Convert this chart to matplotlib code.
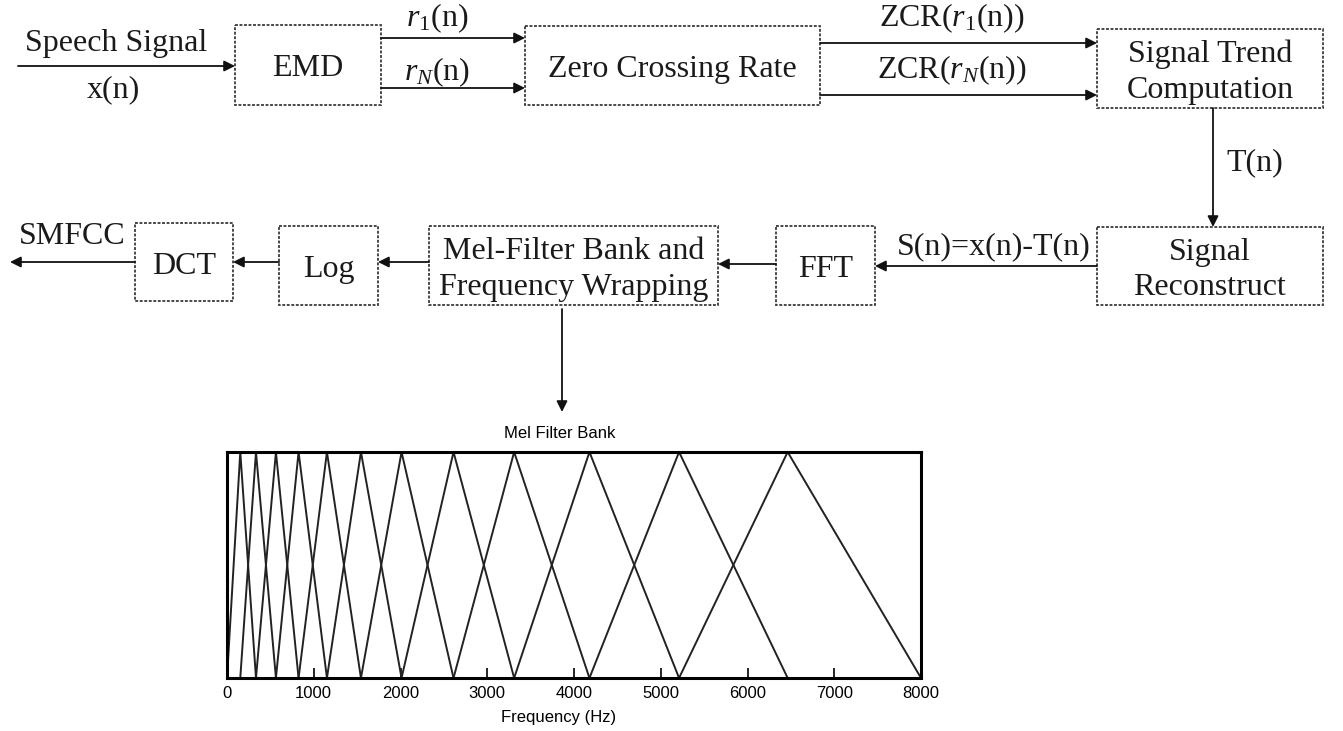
import numpy as np
import matplotlib
matplotlib.use("Agg")
import matplotlib.pyplot as plt
from matplotlib.patches import Rectangle

# ------------------------------------------------------------
# data: mel filter bank centre frequencies (Hz)
# ------------------------------------------------------------
f_min = 0
f_max = 8000
mel_centres = [153, 334, 564, 825, 1152, 1544, 2012, 2611, 3310, 4178, 5211, 6463]
freq_ticks = [0, 1000, 2000, 3000, 4000, 5000, 6000, 7000, 8000]

# block labels of the flow diagram
block_labels = ["EMD", "Zero Crossing Rate", "Signal Trend\nComputation",
                "Signal\nReconstruct", "FFT",
                "Mel-Filter Bank and\nFrequency Wrapping", "Log", "DCT"]
edge_labels = ["$r_1$(n)", "$r_N$(n)", "ZCR($r_1$(n))", "ZCR($r_N$(n))",
               "T(n)", "S(n)=x(n)-T(n)", "SMFCC"]

plt.rcParams["font.family"] = ["Liberation Serif", "DejaVu Serif"]
plt.rcParams["mathtext.fontset"] = "custom"
plt.rcParams["mathtext.rm"] = "Liberation Serif"
plt.rcParams["mathtext.it"] = "Liberation Serif:italic"

fig = plt.figure(figsize=(13.43, 7.31), dpi=100)

# -----------------------------
# Diagram layer in pixel coords
# -----------------------------
ax0 = fig.add_axes([0, 0, 1, 1])
ax0.set_xlim(0, 1343)
ax0.set_ylim(731, 0)
ax0.axis("off")

# (x0, y0, x1, y1) for each block
boxes = [
    (235, 25, 381, 105),
    (525, 26, 820, 105),
    (1097, 29, 1323, 108),
    (1097, 227, 1323, 305),
    (776, 226, 875, 305),
    (429, 226, 718, 305),
    (279, 226, 378, 305),
    (135, 223, 233, 301),
]
text_fs = 23
ink = "#1a1a1a"

for (x0, y0, x1, y1), lab in zip(boxes, block_labels):
    ax0.add_patch(Rectangle((x0, y0), x1 - x0, y1 - y0, fill=False,
                            edgecolor="#3a3a3a", lw=1.3,
                            linestyle=(0, (1.6, 0.9))))
    ax0.text((x0 + x1) / 2, (y0 + y1) / 2 + 4, lab, ha="center", va="center",
             fontsize=text_fs, color=ink, linespacing=1.3)


def arrow(x0, y0, x1, y1):
    ax0.annotate("", xy=(x1, y1), xytext=(x0, y0),
                 arrowprops=dict(arrowstyle="-|>", color="#111111", lw=1.3,
                                 mutation_scale=16, shrinkA=0, shrinkB=0))


arrow(18, 66, 235, 66)
arrow(381, 38, 525, 38)
arrow(381, 88, 525, 88)
arrow(820, 43, 1097, 43)
arrow(820, 95, 1097, 95)
arrow(1213, 108, 1213, 227)
arrow(1097, 266, 875, 266)
arrow(776, 264, 718, 264)
arrow(429, 262, 378, 262)
arrow(279, 262, 233, 262)
arrow(135, 262, 10, 262)
arrow(562, 309, 562, 412)

ax0.text(116, 43, "Speech Signal", ha="center", va="center", fontsize=text_fs, color=ink)
ax0.text(113, 90, "x(n)", ha="center", va="center", fontsize=text_fs, color=ink)

edge_pos = [(437, 18), (437, 72), (952, 18), (952, 70),
            (1255, 163), (994, 247), (72, 237)]
for (x, y), lab in zip(edge_pos, edge_labels):
    ax0.text(x, y, lab, ha="center", va="center", fontsize=text_fs, color=ink)

# -----------------------------
# Mel filter bank plot
# -----------------------------
ax = fig.add_axes([227 / 1343, 1 - 678 / 731, 694 / 1343, 226 / 731])
edges = [f_min] + mel_centres + [f_max]
for i in range(len(mel_centres)):
    ax.plot(edges[i:i + 3], [0, 1, 0], color="#222222", lw=1.4,
            solid_joinstyle="miter")

ax.set_xlim(f_min, f_max)
ax.set_ylim(0, 1)
ax.set_yticks([])
ax.set_xticks(freq_ticks)
ax.tick_params(axis="x", direction="in", length=7, width=1.2, pad=6,
               labelsize=12, labelfontfamily="Liberation Sans")
for s in ax.spines.values():
    s.set_linewidth(2.2)
ax.set_title("Mel Filter Bank", x=0.48, pad=10, fontsize=12,
             fontfamily="Liberation Sans")
ax.set_xlabel("Frequency (Hz)", fontsize=12, fontfamily="Liberation Sans")
ax.xaxis.set_label_coords(0.478, -0.14)

fig.savefig("out.png", dpi=100)
plt.close(fig)
